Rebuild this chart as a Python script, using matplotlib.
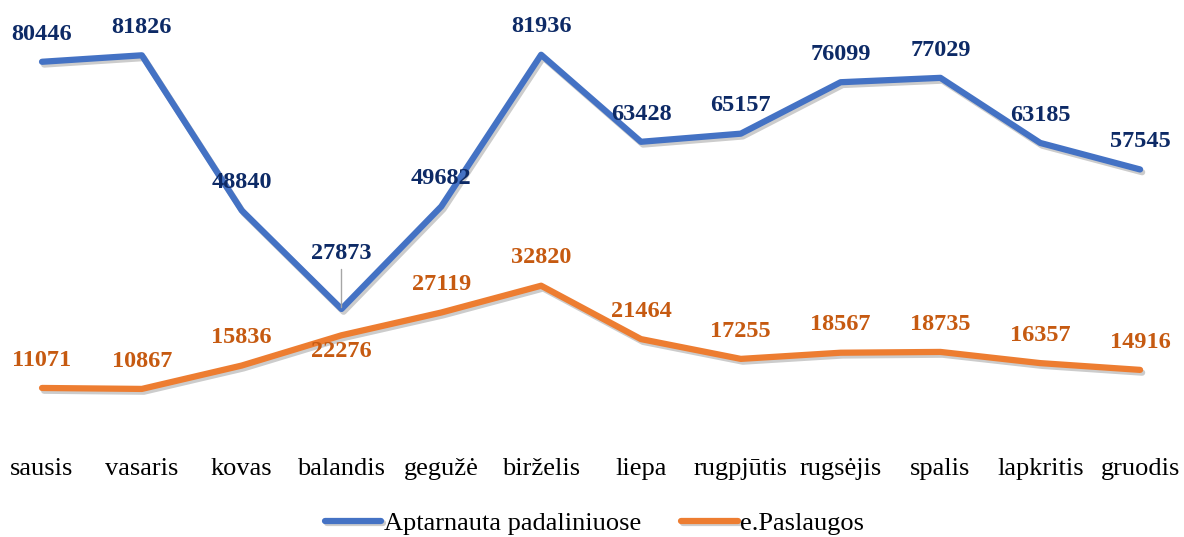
import matplotlib.pyplot as plt
import matplotlib.patheffects as pe

months = ['sausis', 'vasaris', 'kovas', 'balandis', 'gegužė', 'birželis',
          'liepa', 'rugpjūtis', 'rugsėjis', 'spalis', 'lapkritis', 'gruodis']
padaliniuose = [80446, 81826, 48840, 27873, 49682, 81936,
                63428, 65157, 76099, 77029, 63185, 57545]
e_paslaugos = [11071, 10867, 15836, 22276, 27119, 32820,
               21464, 17255, 18567, 18735, 16357, 14916]

series_names = ['Aptarnauta padaliniuose', 'e.Paslaugos']

# label offsets (points) where the default "above" does not fit
blue_offsets = {3: 40}
orange_offsets = {3: -12}

plt.rcParams['font.family'] = ['Liberation Serif', 'DejaVu Serif']

fig = plt.figure(figsize=(11.84, 5.37), dpi=100)
ax = fig.add_axes([0, 0.1806, 1, 0.788])

x = list(range(len(months)))
shadow = [pe.SimpleLineShadow(offset=(1.5, -2), shadow_color='black', alpha=0.2),
          pe.Normal()]

ax.plot(x, padaliniuose, color='#4472C4', lw=4.5, solid_capstyle='round',
        label=series_names[0], path_effects=shadow, zorder=3)
ax.plot(x, e_paslaugos, color='#ED7D31', lw=4.5, solid_capstyle='round',
        label=series_names[1], path_effects=shadow, zorder=3)

for i, v in enumerate(padaliniuose):
    off = blue_offsets.get(i, 20)
    arrow = None
    if i == 3:
        arrow = dict(arrowstyle='-', color='#A6A6A6', lw=1, shrinkA=2, shrinkB=1)
    ax.annotate(str(v), (i, v), xytext=(0, off), textcoords='offset points',
                ha='center', va='center', fontsize=17.5, fontweight='bold',
                color='#0D2A66', arrowprops=arrow, zorder=4)

for i, v in enumerate(e_paslaugos):
    off = orange_offsets.get(i, 20)
    ax.annotate(str(v), (i, v), xytext=(0, off), textcoords='offset points',
                ha='center', va='center', fontsize=17.5, fontweight='bold',
                color='#C65A11', zorder=4)

ax.set_xlim(-0.421, 11.44)
ax.set_ylim(0, 90000)
ax.set_xticks(x)
ax.set_xticklabels(months, fontsize=19)
ax.tick_params(axis='x', length=0, pad=13)
ax.set_yticks([])
for s in ax.spines.values():
    s.set_visible(False)

fig.legend(loc='center', bbox_to_anchor=(0.502, 1 - 523 / 537), ncol=2,
           frameon=False, fontsize=19, handlelength=2.15, handletextpad=0.1,
           columnspacing=1.5)

fig.savefig('out.png', dpi=100)
